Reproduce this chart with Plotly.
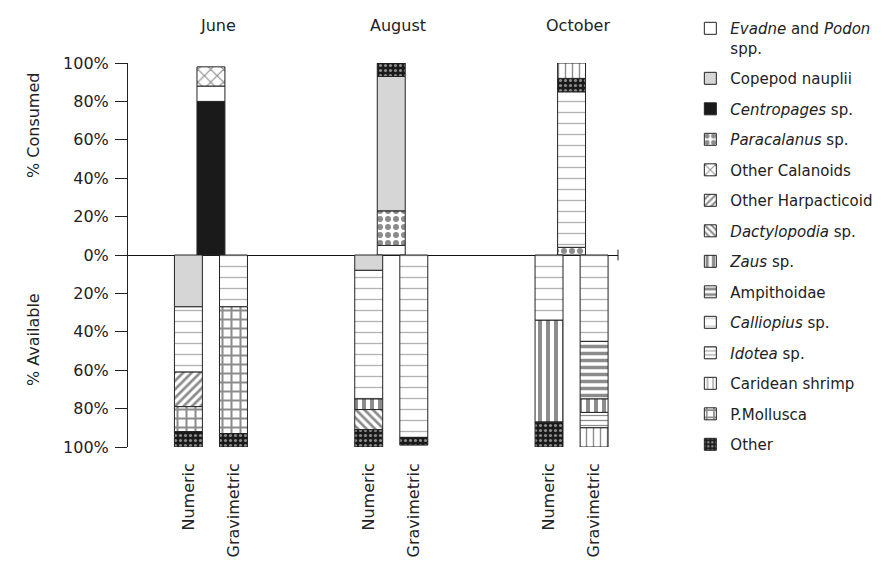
import plotly.graph_objects as go

# ---------------- data ----------------
months = ["June", "August", "October"]
bar_types = ["Numeric", "Gravimetric"]

# % consumed (one bar per month: June, August, October)
consumed = {
    "Centropages": [80, 0, 0],
    "Evadne": [8, 5, 0],
    "OtherCal": [10, 0, 0],
    "Paracalanus": [0, 18, 4],
    "CopNauplii": [0, 70, 0],
    "Calliopius": [0, 0, 81],
    "Harpacticoid": [0, 0, 0],
    "Ampithoidae": [0, 0, 0],
    "Zaus": [0, 0, 0],
    "Dactylopodia": [0, 0, 0],
    "Idotea": [0, 0, 0],
    "Mollusca": [0, 0, 0],
    "Other": [0, 7, 7],
    "Caridean": [0, 0, 8],
}

# % available (June N, June G, August N, August G, October N, October G)
available = {
    "Centropages": [0, 0, 0, 0, 0, 0],
    "Evadne": [0, 0, 0, 0, 0, 0],
    "OtherCal": [0, 0, 0, 0, 0, 0],
    "Paracalanus": [0, 0, 0, 0, 0, 0],
    "CopNauplii": [27, 0, 8, 0, 0, 0],
    "Calliopius": [34, 27, 67, 95, 34, 45],
    "Harpacticoid": [18, 0, 0, 0, 0, 0],
    "Ampithoidae": [0, 0, 0, 0, 0, 30],
    "Zaus": [0, 0, 5.5, 0, 53, 7],
    "Dactylopodia": [0, 0, 10.5, 0, 0, 0],
    "Idotea": [0, 0, 0, 0, 0, 8],
    "Mollusca": [13, 66, 0, 0, 0, 0],
    "Other": [8, 7, 9, 4, 13, 0],
    "Caridean": [0, 0, 0, 0, 0, 10],
}

names = {
    "Evadne": "<i>Evadne</i> and <i>Podon</i><br>spp.",
    "CopNauplii": "Copepod nauplii",
    "Centropages": "<i>Centropages</i> sp.",
    "Paracalanus": "<i>Paracalanus</i> sp.",
    "OtherCal": "Other Calanoids",
    "Harpacticoid": "Other Harpacticoid",
    "Dactylopodia": "<i>Dactylopodia</i> sp.",
    "Zaus": "<i>Zaus</i> sp.",
    "Ampithoidae": "Ampithoidae",
    "Calliopius": "<i>Calliopius</i> sp.",
    "Idotea": "<i>Idotea</i> sp.",
    "Caridean": "Caridean shrimp",
    "Mollusca": "P.Mollusca",
    "Other": "Other",
}
legend_order = ["Evadne", "CopNauplii", "Centropages", "Paracalanus", "OtherCal",
                "Harpacticoid", "Dactylopodia", "Zaus", "Ampithoidae", "Calliopius",
                "Idotea", "Caridean", "Mollusca", "Other"]

y_tick_vals = [-100, -80, -60, -40, -20, 0, 20, 40, 60, 80, 100]
y_tick_text = ["100%", "80%", "60%", "40%", "20%", "0%", "20%", "40%", "60%", "80%", "100%"]

# ---------------- styles ----------------
K = "#1a1a1a"
styles = {
    "Centropages": dict(color=K),
    "Evadne": dict(color="white"),
    "OtherCal": dict(color="white", pattern=dict(shape="x", fgcolor=K, bgcolor="white", size=9, solidity=0.25)),
    "Paracalanus": dict(color="white", pattern=dict(shape=".", fgcolor=K, bgcolor="white", size=8, solidity=0.45)),
    "CopNauplii": dict(color="#d6d6d6"),
    "Calliopius": dict(color="white", pattern=dict(shape="-", fgcolor="#666666", bgcolor="white", size=11, solidity=0.12)),
    "Harpacticoid": dict(color="white", pattern=dict(shape="/", fgcolor=K, bgcolor="white", size=6, solidity=0.45)),
    "Ampithoidae": dict(color="white", pattern=dict(shape="-", fgcolor=K, bgcolor="white", size=7, solidity=0.5)),
    "Zaus": dict(color="white", pattern=dict(shape="|", fgcolor=K, bgcolor="white", size=8, solidity=0.5)),
    "Dactylopodia": dict(color="white", pattern=dict(shape="\\", fgcolor=K, bgcolor="white", size=6, solidity=0.45)),
    "Idotea": dict(color="white", pattern=dict(shape="-", fgcolor=K, bgcolor="white", size=5, solidity=0.25)),
    "Mollusca": dict(color="white", pattern=dict(shape="+", fgcolor=K, bgcolor="white", size=9, solidity=0.4)),
    "Other": dict(color=K, pattern=dict(shape=".", fgcolor="white", bgcolor=K, size=5, solidity=0.3)),
    "Caridean": dict(color="white", pattern=dict(shape="|", fgcolor=K, bgcolor="white", size=7, solidity=0.2)),
}

# positions: per month, numeric at 4m, consumed at 4m+0.5, gravimetric at 4m+1
cons_x = [4 * m + 0.5 for m in range(len(months))]
avail_x = [4 * m + t for m in range(len(months)) for t in range(len(bar_types))]
avail_lbl = [bt for m in months for bt in bar_types]

fig = go.Figure()
for key in consumed:  # stacking order
    xs, ys = [], []
    for x, v in zip(cons_x, consumed[key]):
        if v:
            xs.append(x); ys.append(v)
    for x, v in zip(avail_x, available[key]):
        if v:
            xs.append(x); ys.append(-v)
    st = styles[key]
    marker = dict(color=st["color"], line=dict(color="#222", width=1))
    if "pattern" in st:
        marker["pattern"] = st["pattern"]
    fig.add_trace(go.Bar(
        x=xs, y=ys, width=0.62, name=names[key], marker=marker,
        legendgroup=key, legendrank=legend_order.index(key) + 1,
        showlegend=True,
    ))

FONT = "DejaVu Sans"
L, R, T, B = 120, 275, 55, 142
PW, PH = 885 - L - R, 581 - T - B

fig.update_layout(
    width=885, height=581,
    margin=dict(l=L, r=R, t=T, b=B, autoexpand=False),
    barmode="relative",
    paper_bgcolor="white", plot_bgcolor="white",
    font=dict(family=FONT, size=15, color="#222"),
    showlegend=True,
    legend=dict(xref="container", yref="container", x=0.771, xanchor="left",
                y=0.993, yanchor="top", maxheight=575,
                traceorder="grouped", tracegroupgap=8, valign="top",
                font=dict(family=FONT, size=15, color="#222"),
                bgcolor="rgba(0,0,0,0)"),
    xaxis=dict(range=[-1.34, 9.53], showgrid=False, zeroline=False, showline=False,
               tickvals=avail_x, ticktext=avail_lbl, tickangle=-90, ticks="",
               ticklabelstandoff=12, automargin=False,
               tickfont=dict(size=16, family=FONT, color="#222")),
    yaxis=dict(range=[-100, 100], showgrid=False, zeroline=True, zerolinecolor="#111",
               zerolinewidth=1, showline=True, linecolor="#222", linewidth=1,
               ticks="outside", ticklen=12, tickcolor="#222", tickwidth=1,
               tickvals=y_tick_vals, ticktext=y_tick_text, ticklabelstandoff=3,
               automargin=False,
               tickfont=dict(size=16, family=FONT, color="#222")),
)

# right-end tick of the zero line
fig.add_shape(type="line", xref="paper", yref="y", x0=1, x1=1, y0=-2.8, y1=2.8,
              line=dict(color="#222", width=1))

# month titles
for m, name in enumerate(months):
    fig.add_annotation(x=cons_x[m] + 0.15, xref="x", y=(581 - B - 18) / PH, yref="paper",
                       text=name, showarrow=False, yanchor="middle", xanchor="center",
                       font=dict(size=16, family=FONT, color="#222"))

# axis titles (pixel positions converted to paper coords)
for text, px, py in [("% Consumed", 25, 118), ("% Available", 25, 332)]:
    fig.add_annotation(x=(px - L) / PW, xref="paper", y=(581 - B - py) / PH, yref="paper",
                       text=text, showarrow=False, textangle=-90,
                       xanchor="center", yanchor="middle",
                       font=dict(size=16, family=FONT, color="#222"))

fig.write_html("out.html")
